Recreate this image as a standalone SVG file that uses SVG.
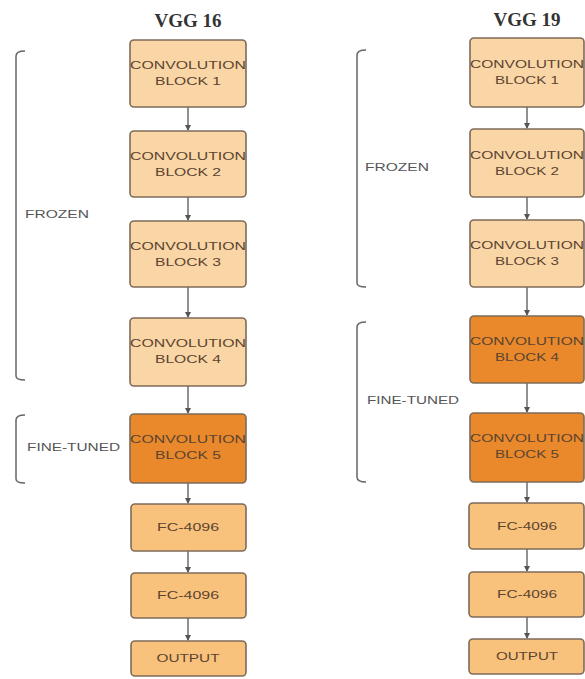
<svg xmlns="http://www.w3.org/2000/svg" width="585" height="679" viewBox="0 0 585 679">
<style>
.box{stroke:#7d6b58;stroke-width:1.6}
.light{fill:#fad6a6}
.mid{fill:#f8c27c}
.dark{fill:#e9892c}
.bt{font-family:"Liberation Sans",Arial,sans-serif;font-size:10.5px;fill:#5b4430;text-anchor:middle}
.lab{font-family:"Liberation Sans",Arial,sans-serif;font-size:10px;fill:#555;}
.title{font-family:"Liberation Serif","Times New Roman",serif;font-size:19px;font-weight:bold;fill:#333;text-anchor:middle}
.br{fill:none;stroke:#666;stroke-width:1.5}
.con{stroke:#555;stroke-width:1.3;fill:none;marker-end:url(#ah)}
</style>
<defs>
<marker id="ah" markerWidth="6" markerHeight="6" refX="5" refY="3" orient="auto" markerUnits="userSpaceOnUse">
<path d="M0,0 L6,3 L0,6 z" fill="#555"/>
</marker>
</defs>
<rect width="585" height="679" fill="#fff"/>
<text class="title" x="188" y="27">VGG 16</text>
<text class="title" x="527" y="26">VGG 19</text>

<g id="brackets">
<path class="br" d="M25,51 Q16,51 16,56 L16,376 Q16,380 25,380"/>
<path class="br" d="M25,415 Q16,415 16,420 L16,479 Q16,483 25,483"/>
<path class="br" d="M366,50 Q357,50 357,55 L357,283 Q357,287 366,287"/>
<path class="br" d="M366,322 Q357,322 357,327 L357,477 Q357,482 366,482"/>
<text class="lab" x="25" y="218" textLength="64" lengthAdjust="spacingAndGlyphs">FROZEN</text>
<text class="lab" x="27" y="451" textLength="93" lengthAdjust="spacingAndGlyphs">FINE-TUNED</text>
<text class="lab" x="365" y="171" textLength="64" lengthAdjust="spacingAndGlyphs">FROZEN</text>
<text class="lab" x="367" y="404" textLength="92" lengthAdjust="spacingAndGlyphs">FINE-TUNED</text>
</g>

<g id="connectors">
<line class="con" x1="188" y1="107" x2="188" y2="130"/>
<line class="con" x1="188" y1="197" x2="188" y2="220"/>
<line class="con" x1="188" y1="287" x2="188" y2="317"/>
<line class="con" x1="188" y1="386" x2="188" y2="413"/>
<line class="con" x1="188" y1="483" x2="188" y2="503"/>
<line class="con" x1="188" y1="551" x2="188" y2="572"/>
<line class="con" x1="188" y1="618" x2="188" y2="640"/>
<line class="con" x1="527" y1="107" x2="527" y2="128"/>
<line class="con" x1="527" y1="197" x2="527" y2="219"/>
<line class="con" x1="527" y1="287" x2="527" y2="315"/>
<line class="con" x1="527" y1="383" x2="527" y2="412"/>
<line class="con" x1="527" y1="482" x2="527" y2="502"/>
<line class="con" x1="527" y1="549" x2="527" y2="571"/>
<line class="con" x1="527" y1="617" x2="527" y2="638"/>
</g>

<g id="v16-b1"><rect class="box light" x="130" y="40" width="116" height="67" rx="4"/><text class="bt" x="188" y="69" textLength="116" lengthAdjust="spacingAndGlyphs">CONVOLUTION</text><text class="bt" x="188" y="85" textLength="66" lengthAdjust="spacingAndGlyphs">BLOCK 1</text></g>
<g id="v16-b2"><rect class="box light" x="130" y="131" width="116" height="66" rx="4"/><text class="bt" x="188" y="160" textLength="116" lengthAdjust="spacingAndGlyphs">CONVOLUTION</text><text class="bt" x="188" y="176" textLength="66" lengthAdjust="spacingAndGlyphs">BLOCK 2</text></g>
<g id="v16-b3"><rect class="box light" x="130" y="221" width="116" height="66" rx="4"/><text class="bt" x="188" y="250" textLength="116" lengthAdjust="spacingAndGlyphs">CONVOLUTION</text><text class="bt" x="188" y="266" textLength="66" lengthAdjust="spacingAndGlyphs">BLOCK 3</text></g>
<g id="v16-b4"><rect class="box light" x="130" y="318" width="116" height="68" rx="4"/><text class="bt" x="188" y="347" textLength="116" lengthAdjust="spacingAndGlyphs">CONVOLUTION</text><text class="bt" x="188" y="363" textLength="66" lengthAdjust="spacingAndGlyphs">BLOCK 4</text></g>
<g id="v16-b5"><rect class="box dark" x="130" y="414" width="116" height="69" rx="4"/><text class="bt" x="188" y="443" textLength="116" lengthAdjust="spacingAndGlyphs">CONVOLUTION</text><text class="bt" x="188" y="459" textLength="66" lengthAdjust="spacingAndGlyphs">BLOCK 5</text></g>
<g id="v16-fc1"><rect class="box mid" x="131" y="504" width="115" height="47" rx="4"/><text class="bt" x="188" y="531" textLength="62" lengthAdjust="spacingAndGlyphs">FC-4096</text></g>
<g id="v16-fc2"><rect class="box mid" x="131" y="573" width="115" height="45" rx="4"/><text class="bt" x="188" y="599" textLength="62" lengthAdjust="spacingAndGlyphs">FC-4096</text></g>
<g id="v16-out"><rect class="box mid" x="131" y="641" width="115" height="35" rx="4"/><text class="bt" x="188" y="662" textLength="63" lengthAdjust="spacingAndGlyphs">OUTPUT</text></g>

<g id="v19-b1"><rect class="box light" x="470" y="38" width="114" height="69" rx="4"/><text class="bt" x="527" y="68" textLength="114" lengthAdjust="spacingAndGlyphs">CONVOLUTION</text><text class="bt" x="527" y="84" textLength="64" lengthAdjust="spacingAndGlyphs">BLOCK 1</text></g>
<g id="v19-b2"><rect class="box light" x="470" y="129" width="114" height="68" rx="4"/><text class="bt" x="527" y="159" textLength="114" lengthAdjust="spacingAndGlyphs">CONVOLUTION</text><text class="bt" x="527" y="175" textLength="64" lengthAdjust="spacingAndGlyphs">BLOCK 2</text></g>
<g id="v19-b3"><rect class="box light" x="470" y="220" width="114" height="67" rx="4"/><text class="bt" x="527" y="249" textLength="114" lengthAdjust="spacingAndGlyphs">CONVOLUTION</text><text class="bt" x="527" y="265" textLength="64" lengthAdjust="spacingAndGlyphs">BLOCK 3</text></g>
<g id="v19-b4"><rect class="box dark" x="470" y="316" width="114" height="67" rx="4"/><text class="bt" x="527" y="345" textLength="114" lengthAdjust="spacingAndGlyphs">CONVOLUTION</text><text class="bt" x="527" y="361" textLength="64" lengthAdjust="spacingAndGlyphs">BLOCK 4</text></g>
<g id="v19-b5"><rect class="box dark" x="470" y="413" width="114" height="69" rx="4"/><text class="bt" x="527" y="442" textLength="114" lengthAdjust="spacingAndGlyphs">CONVOLUTION</text><text class="bt" x="527" y="458" textLength="64" lengthAdjust="spacingAndGlyphs">BLOCK 5</text></g>
<g id="v19-fc1"><rect class="box mid" x="469" y="503" width="115" height="46" rx="4"/><text class="bt" x="527" y="530" textLength="60" lengthAdjust="spacingAndGlyphs">FC-4096</text></g>
<g id="v19-fc2"><rect class="box mid" x="469" y="572" width="115" height="45" rx="4"/><text class="bt" x="527" y="598" textLength="60" lengthAdjust="spacingAndGlyphs">FC-4096</text></g>
<g id="v19-out"><rect class="box mid" x="469" y="639" width="115" height="35" rx="4"/><text class="bt" x="527" y="660" textLength="62" lengthAdjust="spacingAndGlyphs">OUTPUT</text></g>
</svg>
